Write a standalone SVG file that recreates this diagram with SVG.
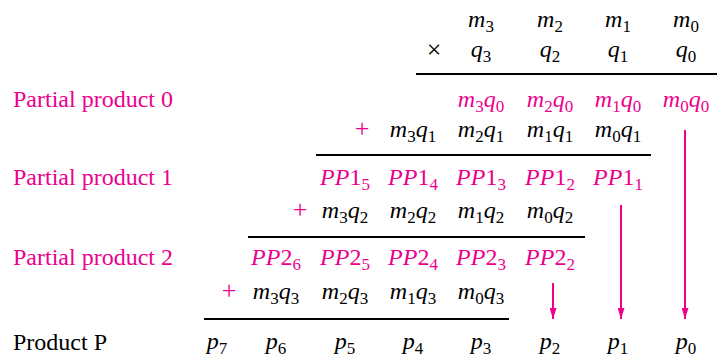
<svg xmlns="http://www.w3.org/2000/svg" width="717" height="358" viewBox="0 0 717 358">
<style>
text{font-family:"Liberation Serif","Times New Roman",serif;font-size:24px;}
.v{font-style:italic;text-anchor:middle;}
.n{font-style:normal;}
.k{fill:#000;}
.p{fill:#EC008C;}
.s{font-size:17px;font-style:normal;}
.op{text-anchor:middle;font-size:26px;}
.rule{stroke:#000;stroke-width:2;}
.arr{stroke:#EC008C;stroke-width:2;fill:none;marker-end:url(#ah);}
</style>
<defs>
<marker id="ah" markerWidth="11" markerHeight="7" refX="11" refY="3.5" orient="auto" markerUnits="userSpaceOnUse" viewBox="0 0 11 7">
<path d="M0,0 L11,3.5 L0,7 Z" fill="#EC008C"/>
</marker>
</defs>
<g id="labels">
<text class="p" x="13" y="107">Partial product 0</text>
<text class="p" x="13" y="185">Partial product 1</text>
<text class="p" x="13" y="265">Partial product 2</text>
<text class="k" x="13" y="350">Product P</text>
</g>
<g id="multiplicand" class="k">
<text class="v" x="481" y="27">m<tspan class="s" dy="5">3</tspan></text>
<text class="v" x="550" y="27">m<tspan class="s" dy="5">2</tspan></text>
<text class="v" x="618" y="27">m<tspan class="s" dy="5">1</tspan></text>
<text class="v" x="686" y="27">m<tspan class="s" dy="5">0</tspan></text>
</g>
<g id="multiplier" class="k">
<text class="op" x="434" y="58">×</text>
<text class="v" x="481" y="57">q<tspan class="s" dy="5">3</tspan></text>
<text class="v" x="550" y="57">q<tspan class="s" dy="5">2</tspan></text>
<text class="v" x="618" y="57">q<tspan class="s" dy="5">1</tspan></text>
<text class="v" x="686" y="57">q<tspan class="s" dy="5">0</tspan></text>
</g>
<g id="pp0" class="p">
<text class="v" x="481" y="107">m<tspan class="s" dy="5">3</tspan><tspan dy="-5">q</tspan><tspan class="s" dy="5">0</tspan></text>
<text class="v" x="550" y="107">m<tspan class="s" dy="5">2</tspan><tspan dy="-5">q</tspan><tspan class="s" dy="5">0</tspan></text>
<text class="v" x="618" y="107">m<tspan class="s" dy="5">1</tspan><tspan dy="-5">q</tspan><tspan class="s" dy="5">0</tspan></text>
<text class="v" x="686" y="107">m<tspan class="s" dy="5">0</tspan><tspan dy="-5">q</tspan><tspan class="s" dy="5">0</tspan></text>
</g>
<g id="row-q1">
<text class="p op" x="362" y="137">+</text>
<text class="v k" x="413" y="137">m<tspan class="s" dy="5">3</tspan><tspan dy="-5">q</tspan><tspan class="s" dy="5">1</tspan></text>
<text class="v k" x="481" y="137">m<tspan class="s" dy="5">2</tspan><tspan dy="-5">q</tspan><tspan class="s" dy="5">1</tspan></text>
<text class="v k" x="550" y="137">m<tspan class="s" dy="5">1</tspan><tspan dy="-5">q</tspan><tspan class="s" dy="5">1</tspan></text>
<text class="v k" x="618" y="137">m<tspan class="s" dy="5">0</tspan><tspan dy="-5">q</tspan><tspan class="s" dy="5">1</tspan></text>
</g>
<g id="pp1" class="p">
<text class="v" x="345" y="185">PP<tspan class="n">1</tspan><tspan class="s" dy="5">5</tspan></text>
<text class="v" x="413" y="185">PP<tspan class="n">1</tspan><tspan class="s" dy="5">4</tspan></text>
<text class="v" x="481" y="185">PP<tspan class="n">1</tspan><tspan class="s" dy="5">3</tspan></text>
<text class="v" x="550" y="185">PP<tspan class="n">1</tspan><tspan class="s" dy="5">2</tspan></text>
<text class="v" x="618" y="185">PP<tspan class="n">1</tspan><tspan class="s" dy="5">1</tspan></text>
</g>
<g id="row-q2">
<text class="p op" x="300" y="218">+</text>
<text class="v k" x="345" y="218">m<tspan class="s" dy="5">3</tspan><tspan dy="-5">q</tspan><tspan class="s" dy="5">2</tspan></text>
<text class="v k" x="413" y="218">m<tspan class="s" dy="5">2</tspan><tspan dy="-5">q</tspan><tspan class="s" dy="5">2</tspan></text>
<text class="v k" x="481" y="218">m<tspan class="s" dy="5">1</tspan><tspan dy="-5">q</tspan><tspan class="s" dy="5">2</tspan></text>
<text class="v k" x="550" y="218">m<tspan class="s" dy="5">0</tspan><tspan dy="-5">q</tspan><tspan class="s" dy="5">2</tspan></text>
</g>
<g id="pp2" class="p">
<text class="v" x="276" y="265">PP<tspan class="n">2</tspan><tspan class="s" dy="5">6</tspan></text>
<text class="v" x="345" y="265">PP<tspan class="n">2</tspan><tspan class="s" dy="5">5</tspan></text>
<text class="v" x="413" y="265">PP<tspan class="n">2</tspan><tspan class="s" dy="5">4</tspan></text>
<text class="v" x="481" y="265">PP<tspan class="n">2</tspan><tspan class="s" dy="5">3</tspan></text>
<text class="v" x="550" y="265">PP<tspan class="n">2</tspan><tspan class="s" dy="5">2</tspan></text>
</g>
<g id="row-q3">
<text class="p op" x="229" y="299">+</text>
<text class="v k" x="276" y="299">m<tspan class="s" dy="5">3</tspan><tspan dy="-5">q</tspan><tspan class="s" dy="5">3</tspan></text>
<text class="v k" x="345" y="299">m<tspan class="s" dy="5">2</tspan><tspan dy="-5">q</tspan><tspan class="s" dy="5">3</tspan></text>
<text class="v k" x="413" y="299">m<tspan class="s" dy="5">1</tspan><tspan dy="-5">q</tspan><tspan class="s" dy="5">3</tspan></text>
<text class="v k" x="481" y="299">m<tspan class="s" dy="5">0</tspan><tspan dy="-5">q</tspan><tspan class="s" dy="5">3</tspan></text>
</g>
<g id="product" class="k">
<text class="v" x="217" y="349">p<tspan class="s" dy="5">7</tspan></text>
<text class="v" x="276" y="349">p<tspan class="s" dy="5">6</tspan></text>
<text class="v" x="345" y="349">p<tspan class="s" dy="5">5</tspan></text>
<text class="v" x="413" y="349">p<tspan class="s" dy="5">4</tspan></text>
<text class="v" x="481" y="349">p<tspan class="s" dy="5">3</tspan></text>
<text class="v" x="550" y="349">p<tspan class="s" dy="5">2</tspan></text>
<text class="v" x="618" y="349">p<tspan class="s" dy="5">1</tspan></text>
<text class="v" x="686" y="349">p<tspan class="s" dy="5">0</tspan></text>
</g>
<g id="rules">
<line class="rule" x1="416" y1="74" x2="717" y2="74"/>
<line class="rule" x1="316" y1="155" x2="651" y2="155"/>
<line class="rule" x1="248" y1="237" x2="585" y2="237"/>
<line class="rule" x1="204" y1="319" x2="509" y2="319"/>
</g>
<g id="connectors">
<line class="arr" x1="685" y1="130" x2="685" y2="319"/>
<line class="arr" x1="621" y1="205" x2="621" y2="319"/>
<line class="arr" x1="553" y1="283" x2="553" y2="319"/>
</g>
</svg>
